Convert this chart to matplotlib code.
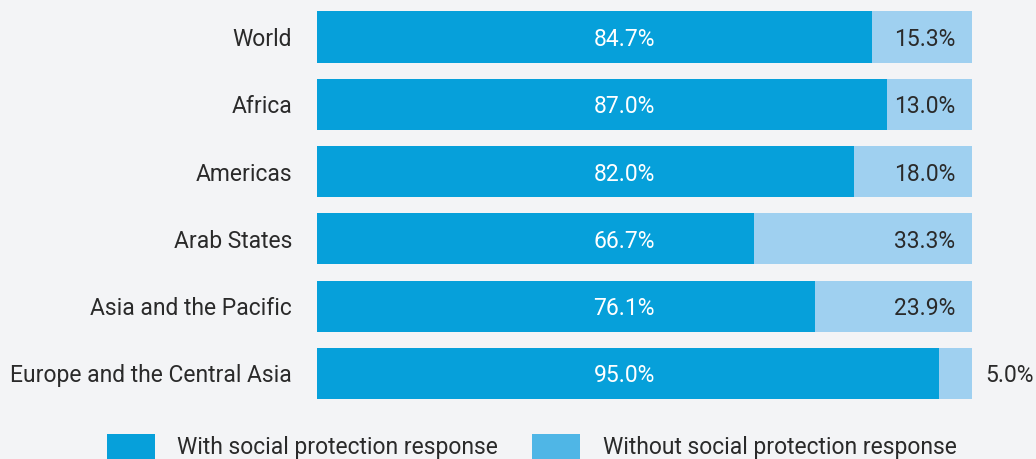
import matplotlib
matplotlib.use("Agg")
import matplotlib.pyplot as plt
from matplotlib.patches import Rectangle

categories = ["World", "Africa", "Americas", "Arab States", "Asia and the Pacific",
              "Europe and the Central Asia"]
with_sp = [84.7, 87.0, 82.0, 66.7, 76.1, 95.0]
without_sp = [15.3, 13.0, 18.0, 33.3, 23.9, 5.0]
legend_labels = ["With social protection response", "Without social protection response"]

plt.rcParams['font.family'] = ['Roboto', 'DejaVu Sans']
BG = "#f3f4f6"
DARK = "#06a0da"
LIGHT = "#9fd0f0"
LEG_LIGHT = "#4fb6e6"
TXT = "#2a2a2a"
FS = 16.5

fig = plt.figure(figsize=(10.36, 4.59), dpi=100, facecolor=BG)
W, H = 1036, 459
ax = fig.add_axes([317 / W, 1 - 407 / H, 655 / W, (407 - 3.35) / H])
ax.set_facecolor(BG)

y = list(range(len(categories)))
ax.barh(y, with_sp, height=0.76, color=DARK, linewidth=0)
ax.barh(y, without_sp, left=with_sp, height=0.76, color=LIGHT, linewidth=0)

ax.set_xlim(0, 100)
ax.set_ylim(5.5, -0.5)
ax.set_yticks(y)
ax.set_yticklabels(categories, fontsize=FS, color=TXT, va='center_baseline')
ax.tick_params(axis='y', length=0, pad=18)
ax.set_xticks([])
for s in ax.spines.values():
    s.set_visible(False)

for i, (a, b) in enumerate(zip(with_sp, without_sp)):
    ax.text(46.9, i, f"{a:.1f}%", ha='center', va='center_baseline', color='white', fontsize=FS)
    if b >= 10:
        ax.text(97.4, i, f"{b:.1f}%", ha='right', va='center_baseline', color=TXT, fontsize=FS)
    else:
        ax.text(102.1, i, f"{b:.1f}%", ha='left', va='center_baseline', color=TXT, fontsize=FS,
                clip_on=False)

# legend
for x0, col, xt, lab in [(107, DARK, 177, legend_labels[0]), (532, LEG_LIGHT, 603, legend_labels[1])]:
    fig.patches.append(Rectangle((x0 / W, 0), 48 / W, (459 - 434) / H, transform=fig.transFigure,
                                 facecolor=col, edgecolor='none'))
    fig.text(xt / W, 1 - 445 / H, lab, ha='left', va='center_baseline', fontsize=FS, color=TXT)

fig.savefig("out.png", dpi=100, facecolor=BG)
